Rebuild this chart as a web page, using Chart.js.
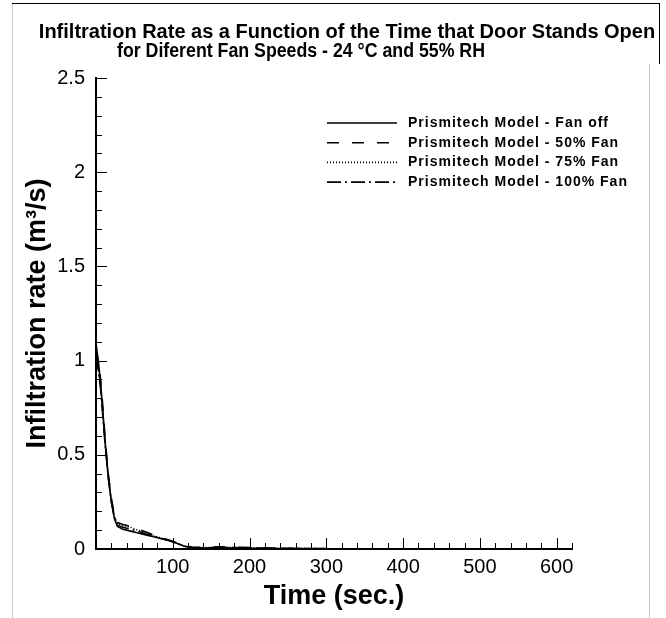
<!DOCTYPE html>
<html>
<head>
<meta charset="utf-8">
<script src="https://cdn.jsdelivr.net/npm/chart.js@4/dist/chart.umd.min.js"></script>
<style>
  html, body { margin: 0; padding: 0; background: #fff; }
  canvas { display: block; }
</style>
</head>
<body>
<canvas id="infil" width="666" height="618"></canvas>
<script>
// Infiltration rate vs time door stands open, four fan speeds

const times = [0, 3, 6, 9, 12, 16, 20, 24, 28, 35, 45, 55, 65, 75, 85, 95, 105, 115, 125, 140, 160, 180, 200, 230, 260, 300];
const fanOff = [1.09, 1.0, 0.88, 0.72, 0.56, 0.38, 0.25, 0.16, 0.12, 0.105, 0.095, 0.085, 0.075, 0.065, 0.055, 0.045, 0.03, 0.015, 0.008, 0.005, 0.006, 0.005, 0.004, 0.003, 0.002, 0.001];
const fan50 = [1.06, 0.98, 0.9, 0.75, 0.58, 0.40, 0.27, 0.18, 0.14, 0.13, 0.12, 0.105, 0.09, 0.075, 0.06, 0.048, 0.033, 0.018, 0.01, 0.008, 0.012, 0.01, 0.008, 0.005, 0.003, 0.002];
const fan75 = [1.04, 0.96, 0.86, 0.73, 0.57, 0.39, 0.26, 0.17, 0.135, 0.125, 0.115, 0.1, 0.085, 0.07, 0.058, 0.046, 0.03, 0.016, 0.009, 0.007, 0.01, 0.009, 0.007, 0.004, 0.003, 0.002];
const fan100 = [1.02, 0.95, 0.85, 0.7, 0.55, 0.38, 0.25, 0.17, 0.125, 0.115, 0.105, 0.095, 0.08, 0.068, 0.056, 0.045, 0.03, 0.015, 0.008, 0.006, 0.008, 0.007, 0.006, 0.004, 0.002, 0.001];

const seriesNames = ['Prismitech Model - Fan off', 'Prismitech Model - 50% Fan', 'Prismitech Model - 75% Fan', 'Prismitech Model - 100% Fan'];
const titleLines = ['Infiltration Rate as a Function of the Time that Door Stands Open', 'for Diferent Fan Speeds - 24 \u00B0C and 55% RH'];

const FONT = '"Liberation Sans", Arial, sans-serif';

const toPoints = (vals) => vals.map((v, i) => ({ x: times[i], y: v }));

const makeSet = (label, vals, dash) => ({
    label: label,
    data: toPoints(vals),
    borderColor: '#000',
    borderWidth: 1.6,
    borderDash: dash,
    pointRadius: 0,
    fill: false,
    tension: 0
});

// white page, thin frame and the two title lines
const framePlugin = {
    id: 'frame',
    beforeDraw: (chart) => {
        const ctx = chart.ctx;
        ctx.save();
        ctx.fillStyle = '#fff';
        ctx.fillRect(0, 0, chart.width, chart.height);
        ctx.lineWidth = 1;
        ctx.strokeStyle = '#c8c8c8';
        ctx.beginPath();
        ctx.moveTo(12.5, 3);
        ctx.lineTo(12.5, 618);
        ctx.moveTo(649.5, 64);
        ctx.lineTo(649.5, 618);
        ctx.stroke();
        ctx.strokeStyle = '#000';
        ctx.beginPath();
        ctx.moveTo(12, 3.5);
        ctx.lineTo(660, 3.5);
        ctx.moveTo(659.5, 3);
        ctx.lineTo(659.5, 64);
        ctx.stroke();

        ctx.fillStyle = '#000';
        ctx.font = 'bold 20px ' + FONT;
        ctx.textAlign = 'center';
        ctx.textBaseline = 'middle';
        ctx.fillText(titleLines[0], 347, 32);
        ctx.fillText(titleLines[1], 301, 51, 368);
        ctx.restore();
    }
};

// ticks pointing into the plot, long on labelled values
const ticksPlugin = {
    id: 'inTicks',
    afterDraw: (chart) => {
        const ctx = chart.ctx;
        const xs = chart.scales.x;
        const ys = chart.scales.y;
        const area = chart.chartArea;
        ctx.save();
        ctx.strokeStyle = '#000';
        ctx.lineWidth = 1;
        ctx.beginPath();
        xs.ticks.forEach(t => {
            if (t.value === 0) return;
            const px = Math.round(xs.getPixelForValue(t.value)) + 0.5;
            const len = t.value % 100 === 0 ? 11 : 6;
            ctx.moveTo(px, area.bottom);
            ctx.lineTo(px, area.bottom - len);
        });
        ys.ticks.forEach(t => {
            if (t.value === 0) return;
            const py = Math.round(ys.getPixelForValue(t.value)) + 0.5;
            const major = Math.abs(t.value * 2 - Math.round(t.value * 2)) < 1e-6;
            ctx.moveTo(area.left, py);
            ctx.lineTo(area.left + (major ? 11 : 6), py);
        });
        ctx.stroke();
        ctx.restore();
    }
};

// legend drawn inside the plot, no box
const legendPlugin = {
    id: 'innerLegend',
    afterDraw: (chart) => {
        const ctx = chart.ctx;
        const area = chart.chartArea;
        const x0 = area.left + 231;
        ctx.save();
        ctx.font = 'bold 14px ' + FONT;
        ctx.letterSpacing = '1px';
        ctx.fillStyle = '#000';
        ctx.textBaseline = 'middle';
        chart.data.datasets.forEach((ds, i) => {
            const y = area.top + 45 + i * 19.7;
            ctx.strokeStyle = ds.borderColor;
            ctx.lineWidth = ds.borderWidth;
            ctx.setLineDash(ds.borderDash || []);
            ctx.beginPath();
            ctx.moveTo(x0, y);
            ctx.lineTo(x0 + 70, y);
            ctx.stroke();
            ctx.setLineDash([]);
            ctx.fillText(ds.label, x0 + 81, y);
        });
        ctx.restore();
    }
};

const tickFont = { family: FONT, size: 20 };
const axisTitleFont = { family: FONT, size: 27, weight: 'bold' };

const config = {
    type: 'line',
    data: {
        datasets: [
            makeSet(seriesNames[0], fanOff, []),
            makeSet(seriesNames[1], fan50, [12, 13]),
            makeSet(seriesNames[2], fan75, [1, 2]),
            makeSet(seriesNames[3], fan100, [14, 4, 2, 4])
        ]
    },
    options: {
        responsive: false,
        animation: false,
        layout: { padding: { left: 14, right: 94, top: 78, bottom: 0 } },
        plugins: {
            legend: { display: false },
            tooltip: { enabled: false },
            title: { display: false }
        },
        scales: {
            x: {
                type: 'linear',
                min: 0,
                max: 620,
                grid: { display: false, drawTicks: false },
                border: { display: true, color: '#000', width: 2 },
                ticks: {
                    stepSize: 20,
                    autoSkip: false,
                    maxRotation: 0,
                    maxTicksLimit: 100,
                    padding: 6,
                    color: '#000',
                    font: tickFont,
                    callback: (v) => (v > 0 && v % 100 === 0) ? String(v) : ''
                },
                title: {
                    display: true,
                    text: 'Time (sec.)',
                    color: '#000',
                    font: axisTitleFont,
                    padding: { top: 0, bottom: 5 }
                },
                afterFit: (scale) => { scale.height = 69; }
            },
            y: {
                min: 0,
                max: 2.5,
                grid: { display: false, drawTicks: false },
                border: { display: true, color: '#000', width: 2 },
                ticks: {
                    stepSize: 0.1,
                    autoSkip: false,
                    maxTicksLimit: 100,
                    padding: 11,
                    color: '#000',
                    font: tickFont,
                    callback: (v) => {
                        const half = Math.round(v * 2);
                        return Math.abs(v * 2 - half) < 1e-6 ? String(half / 2) : '';
                    }
                },
                title: {
                    display: true,
                    text: 'Infiltration rate (m\u00B3/s)',
                    color: '#000',
                    font: axisTitleFont,
                    padding: { top: 7, bottom: 0 }
                },
                afterFit: (scale) => { scale.width = 82; }
            }
        }
    },
    plugins: [framePlugin, ticksPlugin, legendPlugin]
};

const infilChart = new Chart(document.getElementById('infil'), config);
</script>
</body>
</html>
